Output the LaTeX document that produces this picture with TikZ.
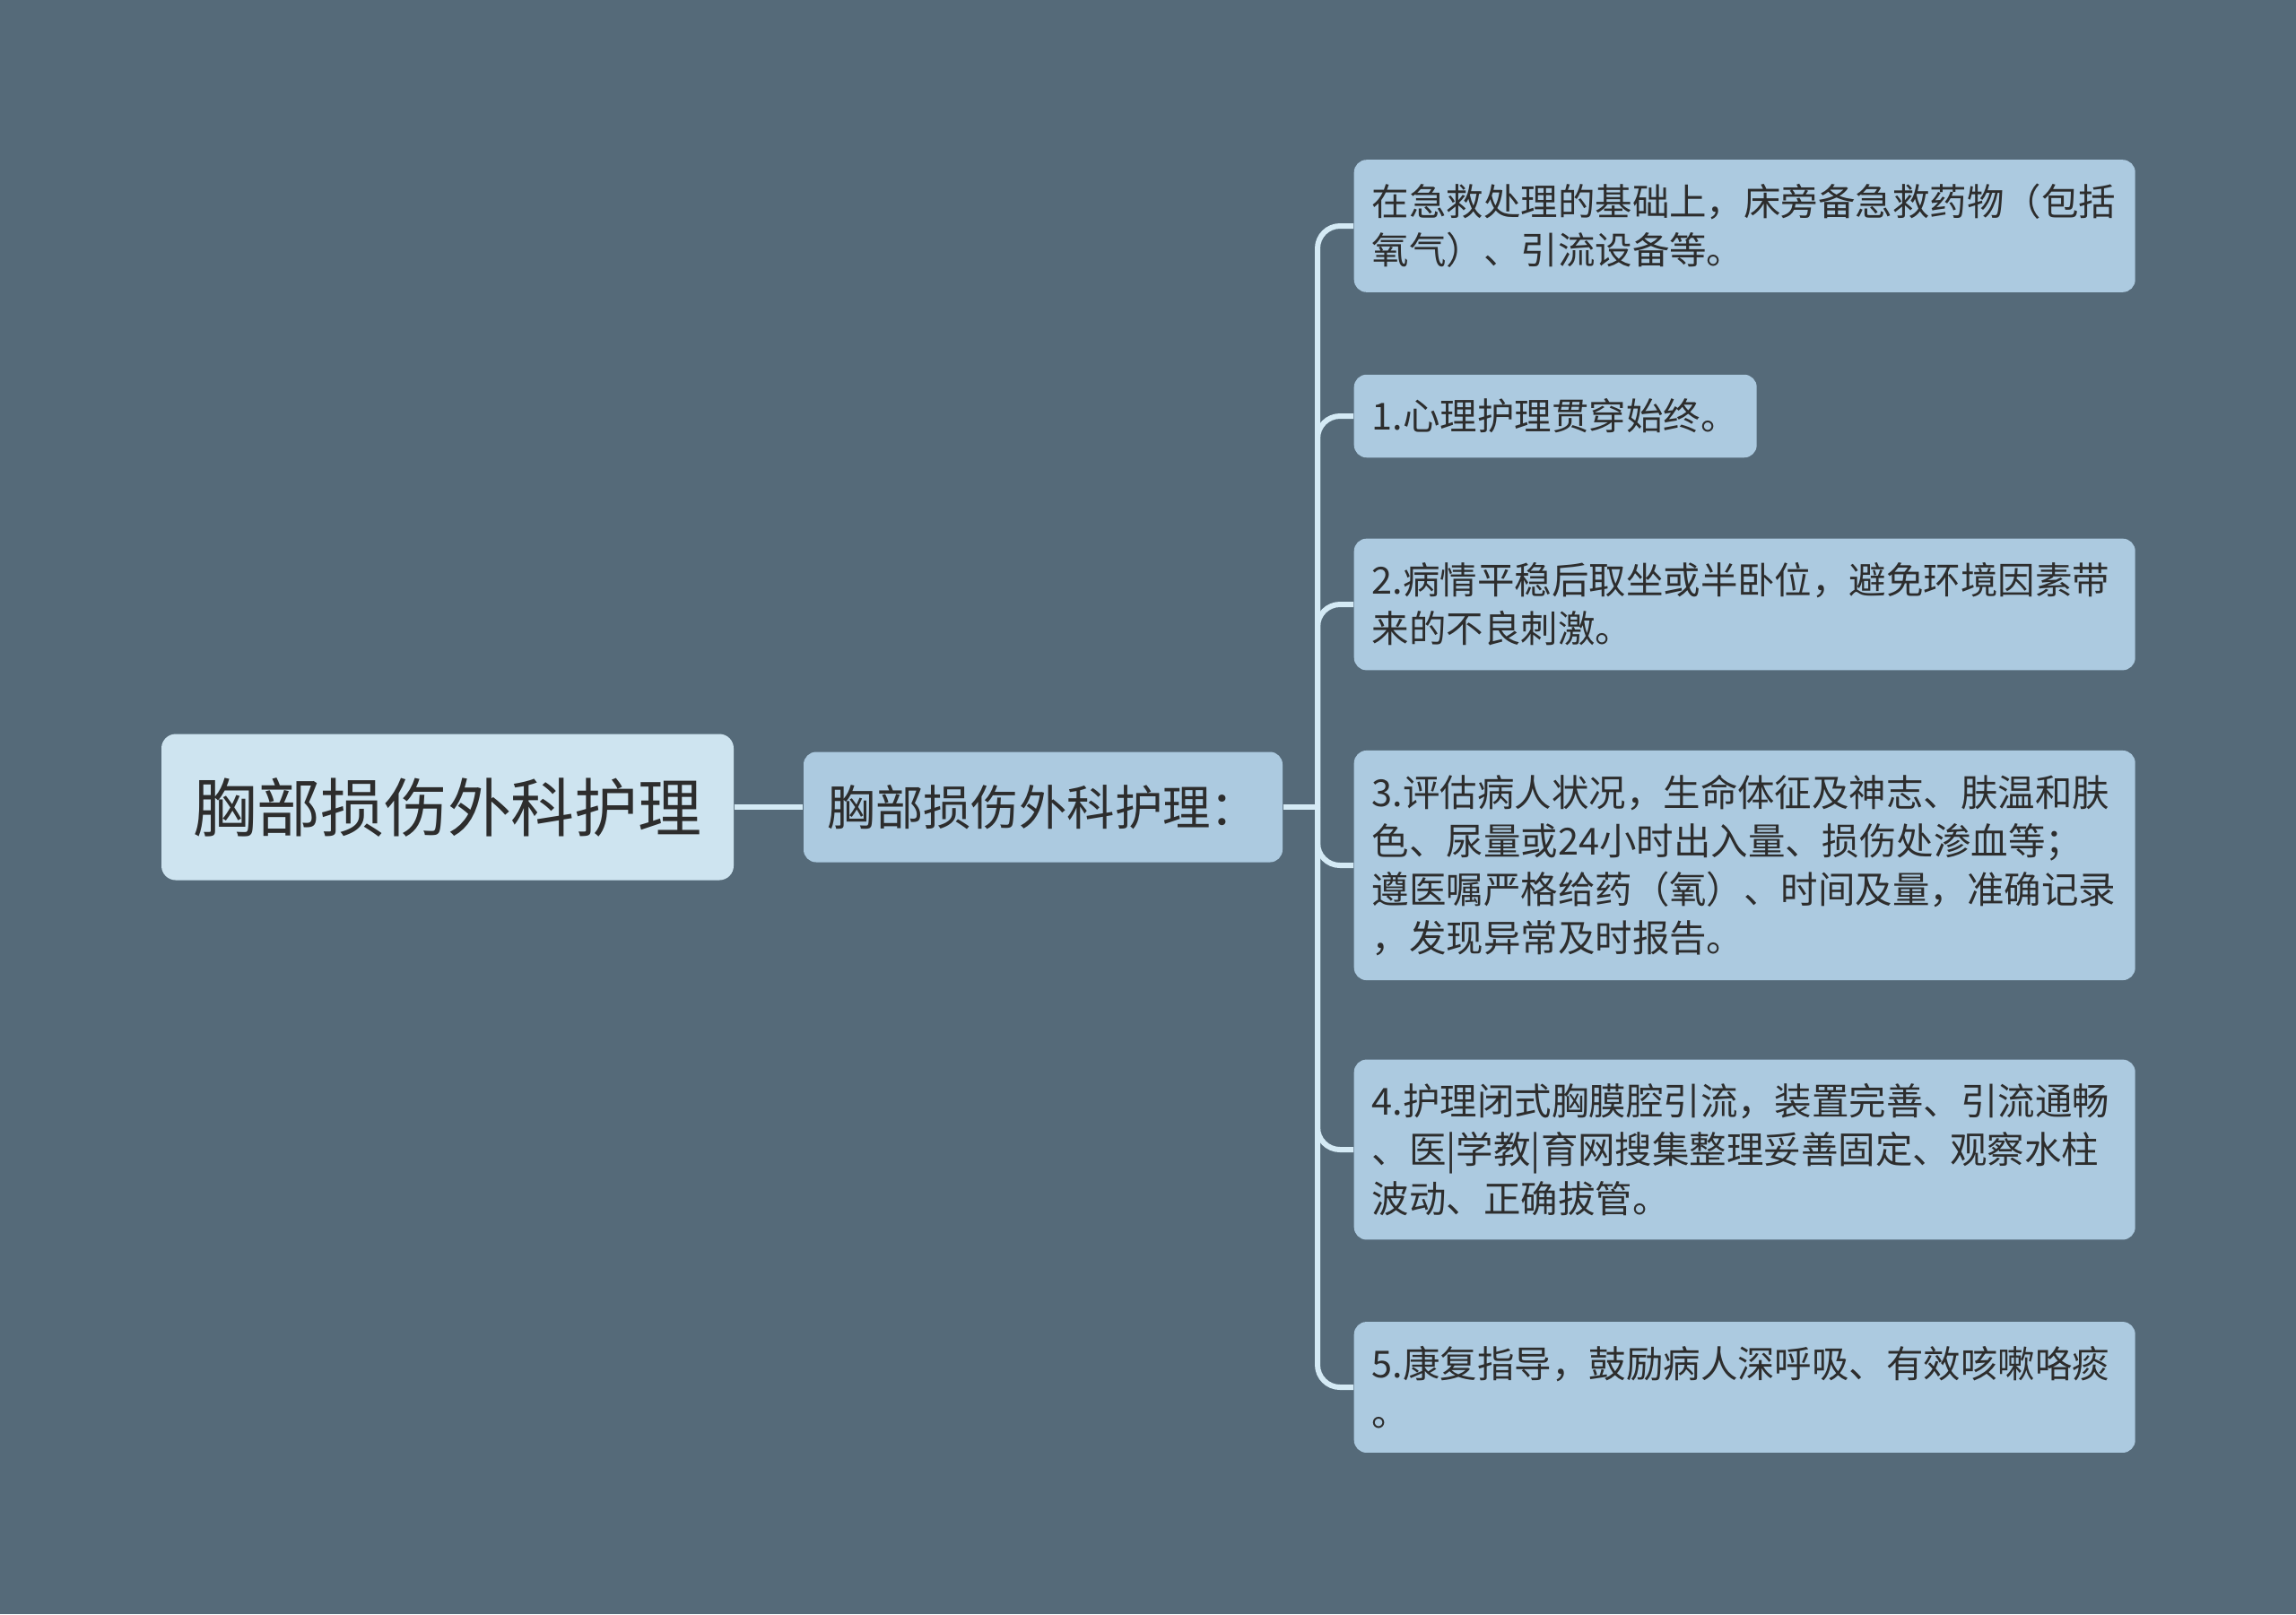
\documentclass[tikz,border=0pt]{standalone}
\usepackage{fontspec}
\setmainfont{Noto Sans CJK SC}
\definecolor{bgslate}{RGB}{85,106,121}
\definecolor{rootfill}{RGB}{206,228,240}
\definecolor{leaffill}{RGB}{172,202,224}
\definecolor{linkblue}{RGB}{212,234,245}
\definecolor{inkdark}{RGB}{45,45,45}
\tikzset{
	rootbox/.style={fill=rootfill, rounded corners=0.16cm, text=inkdark, minimum width=6.38cm, minimum height=1.63cm, font=\fontsize{20.2}{24}\selectfont},
	midbox/.style={fill=leaffill, rounded corners=0.14cm, text=inkdark, minimum width=5.34cm, minimum height=1.23cm, font=\fontsize{15.2}{18}\selectfont},
	leafbox/.style={fill=leaffill, rounded corners=0.14cm, text=inkdark, anchor=west, align=left, inner xsep=0.2cm, inner ysep=0.27cm, text width=8.31cm, font=\fontsize{11.8}{15.4}\selectfont},
	link/.style={draw=linkblue, line width=0.06cm, rounded corners=0.25cm},
}
\begin{document}
\begin{tikzpicture}
	\useasboundingbox (0,0) rectangle (25.6,-18);
	\fill [bgslate] (0,0) rectangle (25.6,-18);
	\node [rootbox] (root) at (4.99,-9.0) {胸部损伤外科护理};
	\node [midbox] (mid) at (11.63,-9.0) {胸部损伤外科护理：};
	\coordinate (hub) at (14.69,-9.0);
	\node [leafbox] (l0) at (15.09,-2.52) {在急救处理的基础上，床旁备急救药物（包括\\氧气）、引流设备等。};
	\node [leafbox, text width=4.09cm] (l1) at (15.09,-4.64) {1.心理护理贯穿始终。};
	\node [leafbox] (l2) at (15.09,-6.74) {2.病情平稳后取坐或半卧位，避免环境因素带\\来的不良刺激。};
	\node [leafbox] (l3) at (15.09,-9.65) {3.评估病人状况，生命体征及神志、肤温和肤\\色、尿量或24小时出入量、损伤处渗血等；\\遵医嘱严格给药（氧）、时间及量，准确记录\\，发现异常及时报告。};
	\node [leafbox] (l4) at (15.09,-12.82) {4.护理闭式胸膜腔引流，装置完善、引流通畅\\、医|学教|育网搜集整理妥善固定、观察水柱\\波动、正确拔管。};
	\node [leafbox] (l5) at (15.09,-15.47) {5.康复指导，鼓励病人深呼吸、有效咳嗽咯痰\\。};
	\draw [link] (root.east) -- (mid.west);
	\draw [link] (mid.east) -- (hub);
	\foreach \leaf in {l0,l1,l2,l3,l4,l5}
		\draw [link] (hub) |- (\leaf.west);
\end{tikzpicture}
\end{document}
